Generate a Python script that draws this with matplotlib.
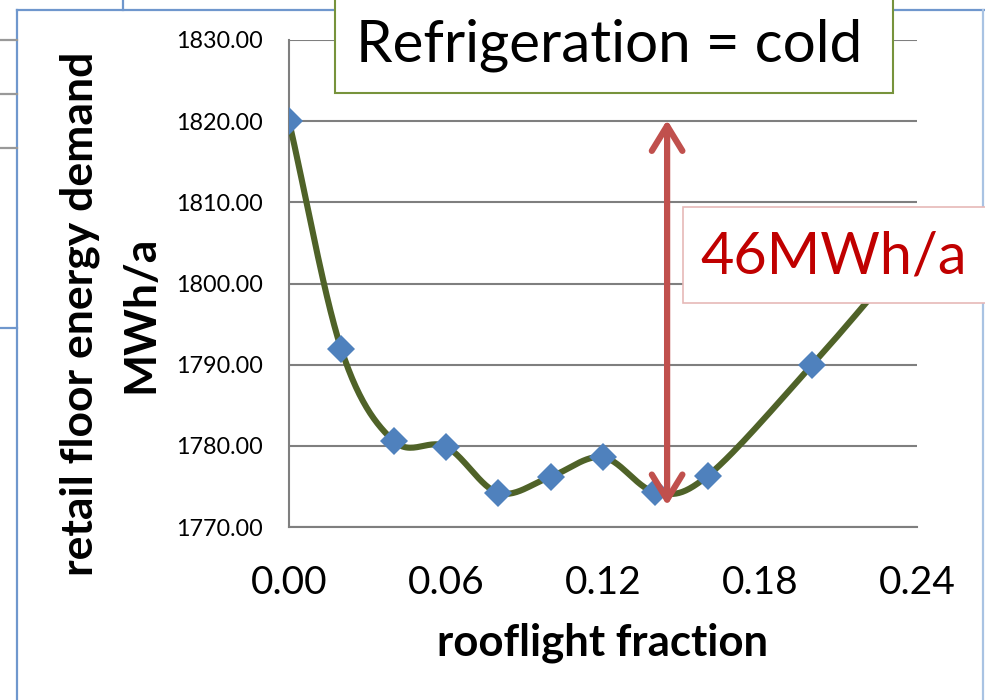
import numpy as np
import matplotlib
matplotlib.use("Agg")
import matplotlib.pyplot as plt
from matplotlib.lines import Line2D
from matplotlib.patches import Rectangle, FancyArrowPatch

plt.rcParams['font.family'] = ['Lato', 'DejaVu Sans']

# Data
fraction = [0.00, 0.02, 0.04, 0.06, 0.08, 0.10, 0.12, 0.14, 0.16, 0.20, 0.24]
demand = [1820.0, 1791.9, 1780.6, 1779.9, 1774.2, 1776.2, 1778.6, 1774.3, 1776.3, 1790.0, 1805.0]
xticks = [0.00, 0.06, 0.12, 0.18, 0.24]
yticks = [1770, 1780, 1790, 1800, 1810, 1820, 1830]
arrow_x = 0.1445
arrow_top, arrow_bottom = 1820.5, 1772.3

W, H = 985, 700


def catmull_rom(x, y, n=30):
    # Excel-style smoothed line through the points
    x = np.asarray(x, float)
    y = np.asarray(y, float)
    px = np.concatenate([[2 * x[0] - x[1]], x, [2 * x[-1] - x[-2]]])
    py = np.concatenate([[2 * y[0] - y[1]], y, [2 * y[-1] - y[-2]]])
    xs, ys = [], []
    t = np.linspace(0, 1, n)
    for i in range(1, len(px) - 2):
        p0, p1, p2, p3 = [np.array([px[j], py[j]]) for j in range(i - 1, i + 3)]
        c1 = p1 + (p2 - p0) / 6
        c2 = p2 - (p3 - p1) / 6
        b = ((1 - t) ** 3)[:, None] * p1 + (3 * (1 - t) ** 2 * t)[:, None] * c1 \
            + (3 * (1 - t) * t ** 2)[:, None] * c2 + (t ** 3)[:, None] * p2
        xs.append(b[:, 0])
        ys.append(b[:, 1])
    return np.concatenate(xs), np.concatenate(ys)


fig = plt.figure(figsize=(W / 100, H / 100), dpi=100)
ax = fig.add_axes([289 / W, 1 - 527 / H, (917 - 289) / W, (527 - 40) / H])

sx, sy = catmull_rom(fraction, demand)
ax.plot(sx, sy, color='#4F6228', lw=4.4, solid_capstyle='round', zorder=3)
ax.plot(fraction, demand, linestyle='none', marker='D', markersize=14,
        color='#4F81BD', markeredgewidth=0, zorder=4)

ax.set_xlim(0, 0.24)
ax.set_ylim(1770, 1830)
ax.set_xticks(xticks)
ax.set_xticklabels([f"{v:.2f}" for v in xticks], fontsize=28)
ax.set_yticks(yticks)
ax.set_yticklabels([f"{v:.2f}" for v in yticks], fontsize=16.8)
ax.tick_params(axis='both', length=0)
ax.tick_params(axis='y', pad=19)
ax.tick_params(axis='x', pad=27)
ax.grid(axis='y', color='#7F7F7F', lw=1.5)
ax.set_axisbelow(True)
for s in ['top', 'right']:
    ax.spines[s].set_visible(False)
for s in ['left', 'bottom']:
    ax.spines[s].set_color('#7F7F7F')
    ax.spines[s].set_linewidth(1.5)
ax.set_xlabel('rooflight fraction', fontsize=31.5, fontweight='bold', labelpad=16)

arrow = FancyArrowPatch((arrow_x, arrow_bottom), (arrow_x, arrow_top),
                        arrowstyle='<->,head_length=0.9,head_width=0.55',
                        mutation_scale=20, color='#C0504D', lw=4.5,
                        capstyle='round', joinstyle='round', zorder=5)
ax.add_patch(arrow)


def fx(px):
    return px / W


def fy(py):
    return 1 - py / H


# y axis title, two lines
fig.text(fx(80), fy(314), 'retail floor energy demand', rotation=90, ha='center',
         va='center', fontsize=32, fontweight='bold')
fig.text(fx(140), fy(314), 'MWh/a', rotation=90, ha='center', va='center',
         fontsize=32, fontweight='bold')

# slide frame lines
blue = '#6F97CD'
for (x0, y0, x1, y1, c) in [(17, 10, 17, 700, blue), (17, 10, 985, 10, blue),
                            (123, 0, 123, 10, blue), (983, 10, 983, 700, '#A9C3E3'),
                            (0, 40, 17, 40, '#999999'), (0, 94, 17, 94, '#999999'),
                            (0, 148, 17, 148, '#999999'), (0, 328, 17, 328, blue)]:
    fig.add_artist(Line2D([fx(x0), fx(x1)], [fy(y0), fy(y1)], color=c, lw=1.6,
                          transform=fig.transFigure, zorder=1))

# text boxes
fig.add_artist(Rectangle((fx(335), fy(93)), fx(893) - fx(335), fy(-5) - fy(93),
                         transform=fig.transFigure, facecolor='white',
                         edgecolor='#77933C', lw=1.5, zorder=6))
fig.text(fx(609), fy(45), 'Refrigeration = cold', ha='center', va='center',
         fontsize=42, zorder=7)

fig.add_artist(Rectangle((fx(683), fy(303)), fx(990) - fx(683), fy(207) - fy(303),
                         transform=fig.transFigure, facecolor='white',
                         edgecolor='#E6B9B8', lw=1.2, zorder=6))
fig.text(fx(834), fy(257), '46MWh/a', ha='center', va='center',
         fontsize=41.5, color='#C00000', zorder=7)

fig.savefig('out.png', dpi=100)
